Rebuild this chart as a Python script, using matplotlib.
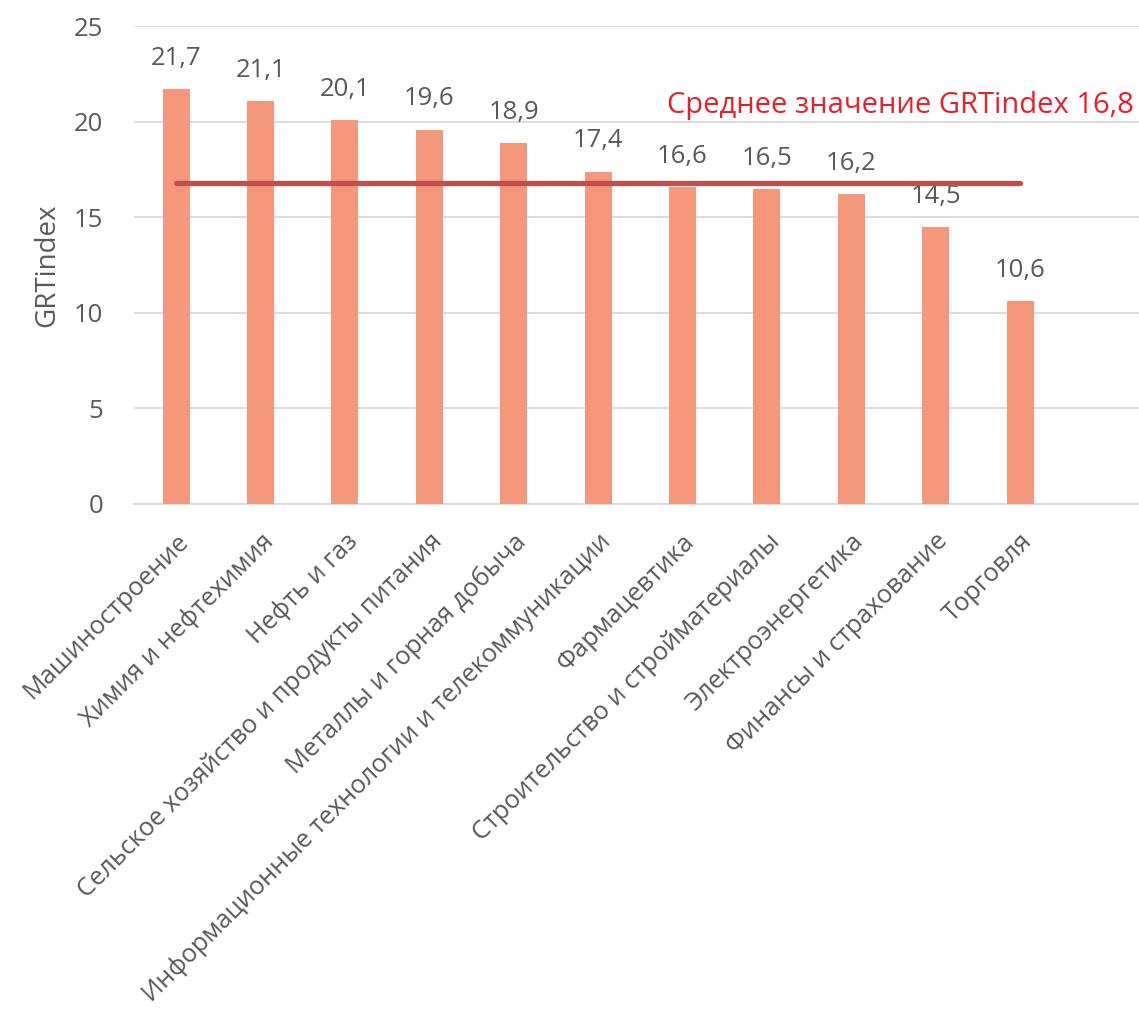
import matplotlib

matplotlib.use("Agg")

import matplotlib.pyplot as plt

plt.rcParams["font.family"] = ["Open Sans", "DejaVu Sans"]

categories = [
    "Машиностроение",
    "Химия и нефтехимия",
    "Нефть и газ",
    "Сельское хозяйство и продукты питания",
    "Металлы и горная добыча",
    "Информационные технологии и телекоммуникации",
    "Фармацевтика",
    "Строительство и стройматериалы",
    "Электроэнергетика",
    "Финансы и страхование",
    "Торговля",
]
values = [21.7, 21.1, 20.1, 19.6, 18.9, 17.4, 16.6, 16.5, 16.2, 14.5, 10.6]
mean_value = 16.8
y_ticks = [0, 5, 10, 15, 20, 25]

grey = "#595959"
bar_color = "#F4977A"
line_color = "#C0504D"

fig = plt.figure(figsize=(11.39, 10.14), dpi=100)
ax = fig.add_axes([0.1176, 0.503, 0.8824, 0.471])

x = list(range(len(categories)))
ax.bar(x, values, width=0.32, color=bar_color, zorder=3)

# линия среднего значения от первой до последней категории
ax.plot([x[0], x[-1]], [mean_value, mean_value], color=line_color,
        linewidth=3.8, solid_capstyle="round", zorder=4)

for xi, v in zip(x, values):
    ax.annotate(format(v, ".1f").replace(".", ","), (xi, v),
                xytext=(0, 13), textcoords="offset points",
                ha="center", va="bottom", fontsize=18.5, color=grey)

ax.text(11.35, 20.85, "Среднее значение GRTindex " +
        format(mean_value, ".1f").replace(".", ","),
        ha="right", va="center", fontsize=21, color="#E8202A")

ax.set_xlim(-0.5, 11.41)
ax.set_ylim(0, 25)
ax.set_yticks(y_ticks)
ax.set_yticklabels([str(t) for t in y_ticks])
ax.grid(axis="y", color="#D9D9D9", linewidth=1.3, zorder=0)
ax.set_axisbelow(True)

ax.set_xticks(x)
ax.set_xticklabels(categories, rotation=45, ha="right",
                   rotation_mode="anchor", fontsize=18.3, color=grey)
ax.tick_params(axis="x", length=0, pad=18)
ax.tick_params(axis="y", length=0, pad=22, labelsize=18.5, labelcolor=grey)

ax.set_ylabel("GRTindex", fontsize=20, color=grey, labelpad=9)

for side in ["top", "right", "left"]:
    ax.spines[side].set_visible(False)
ax.spines["bottom"].set_color("#D9D9D9")
ax.spines["bottom"].set_linewidth(1.3)

fig.savefig("out.png", dpi=100)
